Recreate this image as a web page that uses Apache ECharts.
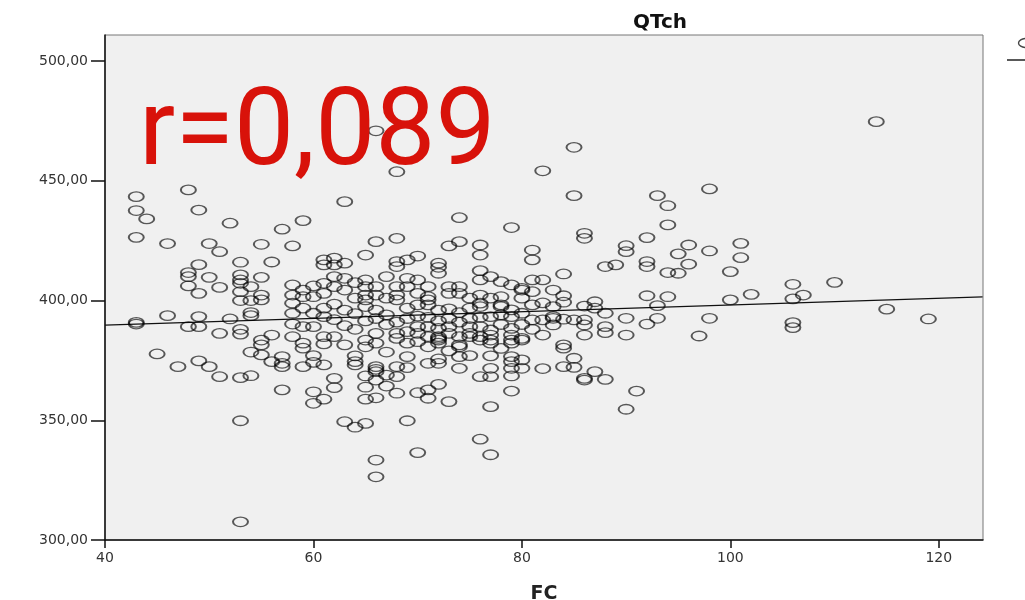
<!DOCTYPE html>
<html>
<head>
<meta charset="utf-8">
<style>
  html, body { margin: 0; padding: 0; background: #fff; }
  #chart { width: 1025px; height: 600px; }
</style>
<script src="https://cdn.jsdelivr.net/npm/echarts@6/dist/echarts.min.js"></script>
</head>
<body>
<div id="chart"></div>
<script>
// FC (heart rate) values, one entry per column of points
const fcLevels = [43, 44, 45, 46, 47, 48, 49, 50, 51, 52, 53, 54, 55, 56, 57, 58, 59, 60, 61, 62,
    63, 64, 65, 66, 67, 68, 69, 70, 71, 72, 73, 74, 75, 76, 77, 78, 79, 80, 81, 82, 83, 84, 85, 86,
    87, 88, 89, 90, 91, 92, 93, 94, 95, 96, 97, 98, 100, 101, 102, 106, 107, 110, 114, 115, 119];

// QTch values read for each FC column (same order as fcLevels)
const qtchByFc = [
    [443.4, 437.6, 426.4, 390.9, 390.2],                 // 43
    [434.1],                                             // 44
    [377.7],                                             // 45
    [423.8, 393.7],                                      // 46
    [372.4],                                             // 47
    [446.2, 411.7, 410, 406.1, 389.1],                   // 48
    [437.8, 415, 403, 393.3, 389.1, 374.8],              // 49
    [423.8, 409.7, 372.4],                               // 50
    [420.4, 405.5, 386.3, 368.2],                        // 51
    [432.3, 392.3],                                      // 52
    [416, 410.7, 408.6, 407.2, 403.7, 400, 388, 386, 367.8, 349.8, 307.6], // 53
    [405.8, 400, 395, 393.7, 378.5, 368.6],              // 54
    [423.5, 409.7, 402.3, 400.3, 383.5, 381.5, 377.3],   // 55
    [416.1, 385.6, 374.5],                               // 56
    [429.8, 376.6, 373.8, 372.4, 362.7],                 // 57
    [422.8, 406.5, 402.3, 398.9, 394.7, 390.2, 384.9],   // 58
    [433.4, 404.4, 401.6, 396.8, 389.1, 382.2, 380.1, 372.4], // 59
    [406.1, 401.6, 394.7, 389.1, 377, 374.2, 361.9, 357.1],   // 60
    [417, 414.9, 407.2, 403, 396.8, 393.3, 384.9, 381.9, 373.1, 358.8], // 61
    [417.7, 414.9, 410, 405.8, 398.5, 392, 384.9, 367.5, 363.6], // 62
    [441.3, 415.6, 409.3, 404.4, 396, 389.5, 381.5, 349.4],  // 63
    [407.5, 401, 394.5, 388, 376.9, 374.5, 373.1, 347.1],    // 64
    [419, 408.6, 405.8, 402.3, 400.3, 397.5, 391.5, 383.5, 380.7, 368.5, 363.8, 358.8, 348.7], // 65
    [470.9, 424.6, 405.8, 402.3, 396, 392.5, 386.3, 382.2, 372.4, 371.3, 370.3, 366.8, 359.4, 333.4, 326.4], // 66
    [410, 401, 394, 390, 378.5, 368.9, 364.3],               // 67
    [453.8, 426, 416.3, 414.2, 405.8, 402.3, 400.3, 391, 386.3, 384.2, 372.4, 368.2, 361.3], // 68
    [417, 409.3, 405.8, 396.8, 392.5, 387, 382.2, 376.6, 372, 349.8], // 69
    [418.6, 408.6, 403, 398.2, 393.5, 389.1, 386.3, 382.8, 361.5, 336.5], // 70
    [405.8, 401.6, 400.3, 398.2, 393, 389.1, 384.9, 380.7, 373.8, 362.7, 359.2], // 71
    [415.6, 413.9, 411.4, 396, 391.5, 388.4, 384.9, 384.2, 383.5, 382.2, 375.6, 373.8, 365], // 72
    [422.8, 405.8, 403, 396.5, 392.5, 389.1, 386.3, 379, 357.8], // 73
    [434.6, 424.6, 405.8, 403, 395, 391, 384.9, 381.5, 380.7, 376.6, 371.7], // 74
    [401, 396.8, 392.5, 389.1, 386.3, 384.9, 377],           // 75
    [423.2, 419, 412.5, 408.6, 402.3, 398.9, 397.5, 393, 389.1, 384.9, 383.5, 368.2, 342.1], // 76
    [410, 401, 393.3, 387.7, 385.6, 383.5, 382.2, 376.9, 371.7, 368.2, 355.7, 335.6], // 77
    [407.9, 401.6, 398.2, 397.5, 394, 390, 380],             // 78
    [430.5, 406.5, 396.1, 393.3, 388.4, 385.6, 383.5, 382.2, 376.6, 374.5, 371.7, 368.5, 362.2], // 79
    [405.1, 404.4, 401, 394.7, 390, 384.2, 383.5, 375.2, 371.7], // 80
    [421.1, 417, 408.6, 403.7, 398.2, 391.9, 388],           // 81
    [454.2, 408.6, 399, 391.9, 385.6, 371.6],                // 82
    [404.4, 397.5, 393.3, 392.6, 389.8],                     // 83
    [411.1, 402, 399.3, 392.2, 381.5, 380.1, 372.4],         // 84
    [464, 443.8, 391.9, 375.9, 372.1],                       // 85
    [428.1, 426, 397.7, 391.9, 389.8, 385.6, 367.5, 366.8],  // 86
    [399.5, 396.8, 370.3],                                   // 87
    [414.2, 394.7, 389.1, 386.6, 367.1],                     // 88
    [414.9],                                                 // 89
    [422.9, 420.4, 392.6, 385.6, 354.6],                     // 90
    [362.2],                                                 // 91
    [426.3, 416.3, 414.2, 402, 390.2],                       // 92
    [443.8, 397.9, 392.6],                                   // 93
    [439.6, 431.6, 411.7, 401.6],                            // 94
    [419.5, 411.4],                                          // 95
    [423.2, 415.2],                                          // 96
    [385.2],                                                 // 97
    [446.6, 420.7, 392.6],                                   // 98
    [412.1, 400.3],                                          // 100
    [423.9, 417.9],                                          // 101
    [402.6],                                                 // 102
    [406.8, 400.7, 390.8, 388.7],                            // 106
    [402.3],                                                 // 107
    [407.6],                                                 // 110
    [474.7],                                                 // 114
    [396.4],                                                 // 115
    [392.3]                                                  // 119
];

// fit line end points (FC, QTch)
const fitFc = [40, 124.2];
const fitQtch = [389.7, 401.5];

const xTicks = [40, 60, 80, 100, 120];
const yTicks = [300, 350, 400, 450, 500];

const points = [];
fcLevels.forEach((fc, i) => {
    qtchByFc[i].forEach((v) => points.push([fc, v]));
});
const fitLine = fitFc.map((fc, i) => [fc, fitQtch[i]]);

const chart = echarts.init(document.getElementById('chart'));

const labelFont = {
    color: '#333',
    fontFamily: 'DejaVu Sans',
    fontSize: 14,
};

const option = {
    animation: false,
    title: {
        text: 'QTch',
        left: 628,
        top: 8,
        textStyle: {
            fontFamily: 'DejaVu Sans',
            fontWeight: 'bold',
            fontSize: 20,
            color: '#111',
        },
    },
    grid: {
        left: 105,
        top: 35,
        right: 42,
        bottom: 60,
        show: true,
        backgroundColor: '#f0f0f0',
        borderColor: '#777',
        borderWidth: 1,
        containLabel: false,
        outerBoundsMode: 'none',
    },
    xAxis: {
        type: 'value',
        min: 40,
        max: 124.24,
        interval: 20,
        name: 'FC',
        nameLocation: 'middle',
        nameGap: 45,
        nameTextStyle: {
            fontFamily: 'DejaVu Sans',
            fontWeight: 'bold',
            fontSize: 19,
            color: '#222',
        },
        axisLine: { show: true, lineStyle: { color: '#111', width: 1.5 } },
        axisTick: { show: true, length: 8, lineStyle: { color: '#111', width: 1.5 }, customValues: xTicks },
        axisLabel: { ...labelFont, margin: 11, customValues: xTicks },
        splitLine: { show: false },
    },
    yAxis: {
        type: 'value',
        min: 300,
        max: 510.9,
        interval: 50,
        axisLine: { show: true, lineStyle: { color: '#111', width: 1.5 } },
        axisTick: { show: true, length: 14, lineStyle: { color: '#111', width: 1.5 }, customValues: yTicks },
        axisLabel: {
            ...labelFont,
            margin: 17,
            customValues: yTicks,
            formatter: (v) => v.toFixed(2).replace('.', ','),
        },
        splitLine: { show: false },
    },
    series: [
        {
            name: 'QTch',
            type: 'scatter',
            data: points,
            symbol: 'circle',
            symbolSize: [15, 9.5],
            itemStyle: {
                color: 'rgba(0,0,0,0)',
                borderColor: 'rgba(0,0,0,0.8)',
                borderWidth: 1.6,
            },
            emphasis: { disabled: true },
            z: 3,
        },
        {
            name: 'fit',
            type: 'line',
            data: fitLine,
            symbol: 'none',
            lineStyle: { color: '#111', width: 1.3 },
            emphasis: { disabled: true },
            z: 2,
        },
    ],
    graphic: [
        {
            type: 'text',
            left: 139,
            top: 84,
            z: 10,
            style: {
                text: 'r=0,089',
                fontFamily: 'Roboto',
                fontSize: 107,
                fill: '#d8120a',
            },
        },
        {
            // legend marker cut off at the right edge
            type: 'ellipse',
            shape: { cx: 1026, cy: 43, rx: 7.5, ry: 4.5 },
            style: { fill: 'none', stroke: '#444', lineWidth: 1.4 },
        },
        {
            type: 'line',
            shape: { x1: 1007, y1: 60, x2: 1025, y2: 60 },
            style: { stroke: '#222', lineWidth: 1.5 },
        },
    ],
};

chart.setOption(option);
</script>
</body>
</html>
